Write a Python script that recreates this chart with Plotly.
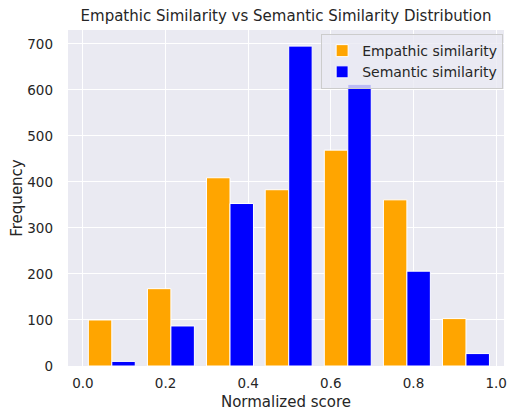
import plotly.graph_objects as go

bin_centers = [0.070, 0.213, 0.356, 0.498, 0.641, 0.784, 0.927]
empathic_counts = [100, 168, 409, 383, 469, 361, 103]
semantic_counts = [10, 87, 353, 695, 612, 206, 27]
x_ticks = [0.0, 0.2, 0.4, 0.6, 0.8, 1.0]
y_ticks = [0, 100, 200, 300, 400, 500, 600, 700]

text_color = "#262626"
font_family = "DejaVu Sans"

fig = go.Figure()
fig.add_trace(go.Bar(
    x=bin_centers, y=empathic_counts, name="Empathic similarity",
    marker=dict(color="orange", line=dict(color="white", width=1)),
))
fig.add_trace(go.Bar(
    x=bin_centers, y=semantic_counts, name="Semantic similarity",
    marker=dict(color="blue", line=dict(color="white", width=1)),
))

# page body has an 8px margin, so the figure is sized to the visible area
fig.update_layout(
    width=499, height=403,
    margin=dict(l=60, r=3, t=22, b=45, autoexpand=False),
    paper_bgcolor="white",
    plot_bgcolor="#EAEAF2",
    barmode="group", bargap=0.2, bargroupgap=0.0,
    font=dict(family=font_family, color=text_color, size=13.5),
    title=dict(text="Empathic Similarity vs Semantic Similarity Distribution",
               x=0.5, xref="paper", xanchor="center", y=0.98, yanchor="middle",
               font=dict(size=15, color=text_color)),
    legend=dict(x=0.998, y=0.988, xanchor="right", yanchor="top",
                bgcolor="rgba(234,234,242,0.8)", bordercolor="#CCCCCC", borderwidth=1,
                font=dict(size=14, color=text_color), traceorder="normal"),
    xaxis=dict(range=[-0.036, 1.019], tickvals=x_ticks, ticktext=[f"{v:.1f}" for v in x_ticks],
               showgrid=True, gridcolor="white", gridwidth=1, zeroline=False, automargin=False,
               showline=False, ticks="", ticklabelstandoff=7,
               title=dict(text="Normalized score", font=dict(size=15), standoff=10)),
    yaxis=dict(range=[0, 730], tickvals=y_ticks, showgrid=True, gridcolor="white", gridwidth=1,
               zeroline=False, showline=False, ticks="", automargin=False, ticklabelstandoff=14,
               title=dict(text="Frequency", font=dict(size=15), standoff=8)),
)

fig.write_html("out.html")
